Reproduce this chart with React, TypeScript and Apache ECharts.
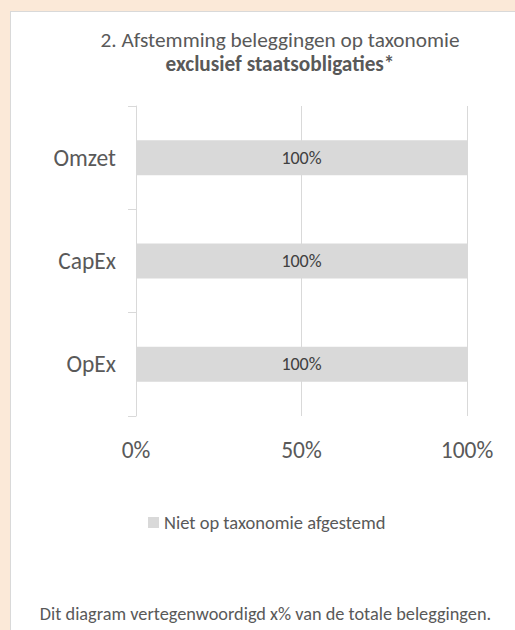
import React, { useEffect, useRef } from "react";
import * as echarts from "echarts";

const categories = ["Omzet", "CapEx", "OpEx"];
const notAligned = [100, 100, 100];
const xTicks = [0, 50, 100];
const seriesName = "Niet op taxonomie afgestemd";
const titleLine1 = "2. Afstemming beleggingen op taxonomie";
const titleLine2 = "exclusief staatsobligaties*";
const footnote = "Dit diagram vertegenwoordigd x% van de totale beleggingen.";

const FONT = "Carlito, Lato, sans-serif";
const TEXT = "#595959";
const GRAY = "#d9d9d9";

export default function App() {
  const ref = useRef<HTMLDivElement>(null);
  useEffect(() => {
    if (!ref.current) return;
    const chart = echarts.init(ref.current, null, { renderer: "svg" });
    chart.setOption({
      animation: false,
      backgroundColor: "transparent",
      textStyle: { fontFamily: FONT },
      grid: { left: 136, right: 48, top: 106, bottom: 214, containLabel: false },
      xAxis: {
        type: "value",
        min: xTicks[0],
        max: xTicks[xTicks.length - 1],
        interval: xTicks[1] - xTicks[0],
        axisLine: { show: false },
        axisTick: { show: false },
        splitLine: { show: true, lineStyle: { color: GRAY, width: 1 } },
        axisLabel: {
          formatter: "{value}%",
          fontSize: 23.5,
          color: TEXT,
          fontFamily: FONT,
          margin: 22,
        },
      },
      yAxis: {
        type: "category",
        inverse: true,
        data: categories,
        axisLine: { show: true, lineStyle: { color: GRAY, width: 1 } },
        axisTick: { show: true, length: 8, lineStyle: { color: GRAY } },
        axisLabel: { fontSize: 23.5, color: TEXT, fontFamily: FONT, margin: 20 },
      },
      legend: {
        left: 148,
        top: 513,
        padding: 0,
        icon: "rect",
        itemWidth: 11,
        itemHeight: 11,
        itemGap: 5,
        textStyle: { fontSize: 18.5, color: TEXT, fontFamily: FONT },
        data: [seriesName],
      },
      series: [
        {
          type: "bar",
          name: seriesName,
          data: notAligned,
          barWidth: 35,
          itemStyle: { color: GRAY },
          label: {
            show: true,
            position: "inside",
            formatter: "{c}%",
            fontSize: 18,
            color: "#404040",
            fontFamily: FONT,
          },
        },
      ],
      graphic: [
        {
          type: "text",
          x: 280,
          y: 40,
          style: {
            text: titleLine1,
            fontSize: 21.3,
            fontFamily: FONT,
            fill: TEXT,
            textAlign: "center",
            textVerticalAlign: "middle",
          },
        },
        {
          type: "text",
          x: 280,
          y: 64,
          style: {
            text: titleLine2,
            fontSize: 21.3,
            fontWeight: "bold",
            fontFamily: FONT,
            fill: TEXT,
            textAlign: "center",
            textVerticalAlign: "middle",
          },
        },
        {
          type: "text",
          x: 265.5,
          y: 614,
          style: {
            text: footnote,
            fontSize: 18.3,
            fontFamily: FONT,
            fill: TEXT,
            textAlign: "center",
            textVerticalAlign: "middle",
          },
        },
      ],
    });
    return () => chart.dispose();
  }, []);

  return (
    <div
      style={{
        position: "absolute",
        left: 0,
        top: 0,
        width: 515,
        height: 630,
        background: "#fbe9d8",
        overflow: "hidden",
      }}
    >
      <div
        style={{
          position: "absolute",
          left: 10,
          top: 11,
          width: 600,
          height: 700,
          background: "#ffffff",
          border: "1px solid #d9d9d9",
        }}
      />
      <div ref={ref} style={{ position: "absolute", left: 0, top: 0, width: 515, height: 630 }} />
    </div>
  );
}
